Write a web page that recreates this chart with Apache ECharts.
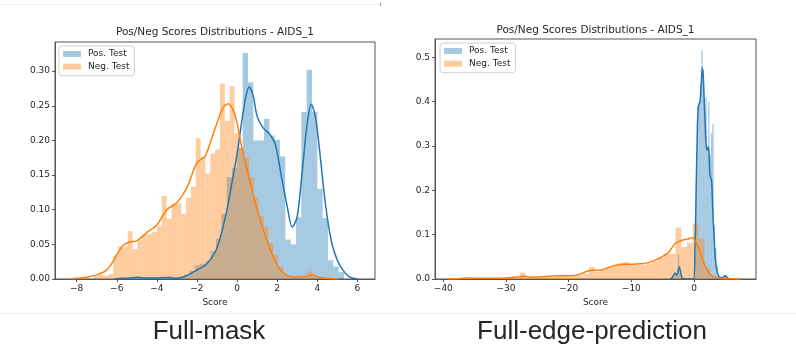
<!DOCTYPE html>
<html>
<head>
<meta charset="utf-8">
<script src="https://cdn.jsdelivr.net/npm/echarts@6/dist/echarts.min.js"></script>
<style>
  html, body { margin: 0; padding: 0; background: #fff; }
  #chart { width: 796px; height: 347px; }
</style>
</head>
<body>
<div id="chart"></div>
<script>
// ---- Full-mask (left) ----
// histogram bins: first left edge, bin width, heights (density)
var maskPosStart = -6.105, maskPosWidth = 0.266;
var maskPosHist = [0.002, 0.003, 0.002, 0.003, 0.004, 0.003, 0.002, 0.002, 0.003, 0.002,
  0.004, 0.002, 0.003, 0.006, 0.012, 0.02, 0.022, 0.026, 0.04, 0.058,
  0.094, 0.147, 0.16, 0.19, 0.326, 0.284, 0.2, 0.2, 0.231, 0.207,
  0.201, 0.177, 0.057, 0.05, 0.089, 0.241, 0.302, 0.241, 0.13, 0.088,
  0.027, 0.018, 0.01];
var maskNegStart = -7.143, maskNegWidth = 0.242;
var maskNegHist = [0.004, 0.006, 0.005, 0.007, 0.034, 0.047, 0.047, 0.069, 0.043, 0.056,
  0.064, 0.065, 0.068, 0.076, 0.12, 0.087, 0.109, 0.109, 0.094, 0.117,
  0.133, 0.203, 0.176, 0.152, 0.181, 0.187, 0.282, 0.228, 0.278, 0.21,
  0.188, 0.175, 0.147, 0.118, 0.09, 0.075, 0.052, 0.035, 0.018, 0.006,
  0.003, 0.002, 0.003, 0.004, 0.011, 0.003];
// kde curves
var maskPosKdeX = [-6.1, -5.5, -5, -4.5, -4, -3.5, -3, -2.5, -2, -1.5, -1, -0.5, -0.25, 0, 0.1, 0.3, 0.45, 0.6, 0.8, 1.0,
  1.3, 1.6, 1.9, 2.2, 2.5, 2.75, 3.0, 3.3, 3.5, 3.7, 3.9, 4.1, 4.4, 4.7, 5.0, 5.3, 5.6, 6.0];
var maskPosKdeY = [0, 0.001, 0.002, 0.0015, 0.0015, 0.002, 0.001, 0.005, 0.013, 0.022, 0.045, 0.1, 0.14, 0.18, 0.2, 0.24, 0.265, 0.277, 0.265, 0.235,
  0.218, 0.21, 0.195, 0.15, 0.105, 0.075, 0.09, 0.17, 0.225, 0.252, 0.235, 0.19, 0.11, 0.055, 0.027, 0.012, 0.003, 0];
var maskNegKdeX = [-8.3, -8, -7.5, -7, -6.6, -6.3, -6, -5.7, -5.4, -5, -4.5, -4, -3.5, -3, -2.5, -2, -1.6, -1.3, -1, -0.7,
  -0.45, -0.2, 0, 0.2, 0.5, 1, 1.5, 2, 2.5, 3, 3.5, 3.75, 4, 4.5, 5];
var maskNegKdeY = [0, 0.001, 0.0025, 0.006, 0.011, 0.02, 0.035, 0.048, 0.053, 0.055, 0.067, 0.078, 0.1, 0.11, 0.132, 0.168, 0.177, 0.2, 0.225, 0.247,
  0.253, 0.244, 0.225, 0.195, 0.158, 0.1, 0.055, 0.02, 0.005, 0.003, 0.004, 0.006, 0.003, 0.001, 0];
var maskXTicks = [-8, -6, -4, -2, 0, 2, 4, 6];
var maskYTicks = [0, 0.05, 0.1, 0.15, 0.2, 0.25, 0.3];

// ---- Full-edge-prediction (right) ----
var edgePosStart = -3.46, edgePosWidth = 0.22;
var edgePosHist = [0.006, 0.012, 0.008, 0.012, 0.055, 0.03, 0.01, 0.002, 0, 0,
  0, 0, 0, 0, 0, 0.004, 0.05, 0.22, 0.39, 0.4,
  0.44, 0.516, 0.47, 0.37, 0.41, 0.3, 0.4, 0.28, 0.33, 0.35,
  0.12, 0.07, 0.03, 0.012, 0.005, 0.003, 0.002, 0.006, 0.01, 0.004];
var edgeNegStart = -37.0, edgeNegWidth = 0.92;
var edgeNegHist = [0.002, 0.002, 0.002, 0.001, 0.001, 0.001, 0.001, 0.001, 0.002, 0.002,
  0.014, 0.004, 0.004, 0.004, 0.005, 0.005, 0.009, 0.007, 0.006, 0.006,
  0.008, 0.012, 0.027, 0.016, 0.02, 0.027, 0.031, 0.036, 0.038, 0.031,
  0.032, 0.031, 0.035, 0.04, 0.048, 0.057, 0.057, 0.116, 0.072, 0.082,
  0.125, 0.09, 0.025, 0.006];
var edgePosKdeX = [-3.8, -3.5, -3.3, -3.0, -2.8, -2.6, -2.4, -2.2, -2.0, -1.8, -1.0, -0.1, 0.16, 0.32, 0.53, 0.69, 0.96, 1.15, 1.33, 1.5,
  1.8, 2.05, 2.3, 2.55, 2.82, 3.0, 3.2, 3.4, 3.7, 4.0, 4.5, 5.0, 5.3, 5.6];
var edgePosKdeY = [0, 0.003, 0.008, 0.0135, 0.008, 0.014, 0.027, 0.02, 0.006, 0.001, 0, 0, 0.072, 0.185, 0.336, 0.389, 0.4, 0.44, 0.477, 0.45,
  0.34, 0.29, 0.298, 0.235, 0.22, 0.15, 0.095, 0.045, 0.016, 0.005, 0.003, 0.0075, 0.003, 0];
var edgeNegKdeX = [-39.2, -38, -36, -34, -32, -30, -28, -27, -26, -24, -22, -20, -19, -18, -17, -16, -15, -14, -13, -12,
  -11, -10, -9, -8, -7, -6, -5, -4, -3, -2, -1, -0.3, 0, 0.5, 1, 1.5, 2, 2.5, 3, 4, 5, 7.5];
var edgeNegKdeY = [0, 0.0008, 0.0023, 0.0015, 0.0015, 0.002, 0.005, 0.006, 0.0045, 0.005, 0.0075, 0.0075, 0.008, 0.012, 0.018, 0.0196, 0.0196, 0.024, 0.029, 0.032,
  0.033, 0.033, 0.034, 0.035, 0.038, 0.044, 0.051, 0.061, 0.08, 0.087, 0.09, 0.093, 0.091, 0.076, 0.058, 0.038, 0.023, 0.012, 0.006, 0.0015, 0.0008, 0];
var edgeXTicks = [-40, -30, -20, -10, 0];
var edgeYTicks = [0, 0.1, 0.2, 0.3, 0.4, 0.5];

var titleText = 'Pos/Neg Scores Distributions - AIDS_1';
var captions = ['Full-mask', 'Full-edge-prediction'];

var BLUE = '#1f77b4', ORANGE = '#ff7f0e';
var BLUE_FILL = 'rgba(31,119,180,0.4)', ORANGE_FILL = 'rgba(255,127,14,0.4)';
var FONT = 'DejaVu Sans';
var TXT = '#262626';

function minus(v) {
    return String(v).replace('-', '\u2212');
}

function histSeries(name, start, width, heights, fill, idx, z) {
    var data = heights.map(function (h, i) {
        return [start + i * width, start + (i + 1) * width, h];
    });
    return {
        name: name,
        type: 'custom',
        xAxisIndex: idx,
        yAxisIndex: idx,
        z: z,
        clip: true,
        itemStyle: {color: fill},
        encode: {x: [0, 1], y: 2},
        data: data,
        renderItem: function (params, api) {
            var a = api.coord([api.value(0), api.value(2)]);
            var b = api.coord([api.value(1), 0]);
            return {
                type: 'rect',
                shape: {x: a[0], y: a[1], width: b[0] - a[0], height: b[1] - a[1]},
                style: {fill: fill}
            };
        }
    };
}

// kde lines sit above every bar, like matplotlib's zorder
function kdeSeries(name, xs, ys, color, idx, z) {
    return {
        name: name,
        type: 'line',
        xAxisIndex: idx,
        yAxisIndex: idx,
        z: z,
        symbol: 'none',
        smooth: 0.3,
        lineStyle: {color: color, width: 1.5},
        data: xs.map(function (x, i) { return [x, ys[i]]; })
    };
}

function xAxis(idx, min, max, ticks) {
    return {
        type: 'value', gridIndex: idx, min: min, max: max,
        name: 'Score', nameLocation: 'middle', nameGap: 18,
        nameTextStyle: {color: TXT, fontSize: 9, fontFamily: FONT},
        axisLine: {show: true, onZero: false, lineStyle: {color: '#555', width: 1}},
        axisTick: {show: true, length: 3, customValues: ticks, lineStyle: {color: '#555'}},
        axisLabel: {customValues: ticks, margin: 5, color: TXT, fontSize: 9, fontFamily: FONT, formatter: minus},
        splitLine: {show: false}
    };
}

function yAxis(idx, max, ticks, digits) {
    return {
        type: 'value', gridIndex: idx, min: 0, max: max,
        axisLine: {show: true, onZero: false, lineStyle: {color: '#555', width: 1}},
        axisTick: {show: true, length: 3, customValues: ticks, lineStyle: {color: '#555'}},
        axisLabel: {customValues: ticks, margin: 5, color: TXT, fontSize: 9, fontFamily: FONT,
            formatter: function (v) { return v.toFixed(digits); }},
        splitLine: {show: false}
    };
}

function legend(left, top) {
    return {
        left: left, top: top, orient: 'vertical',
        padding: [2, 5, 3, 4],
        itemWidth: 18, itemHeight: 6, itemGap: 0.7,
        backgroundColor: 'rgba(255,255,255,0.8)',
        borderColor: '#d0d0d0', borderWidth: 1, borderRadius: 3,
        textStyle: {color: TXT, fontSize: 9, fontFamily: FONT, lineHeight: 12, padding: [0, 0, 0, 2]},
        selectedMode: false,
        data: [
            {name: 'Pos. Test', icon: 'rect', itemStyle: {color: BLUE_FILL}},
            {name: 'Neg. Test', icon: 'rect', itemStyle: {color: ORANGE_FILL}}
        ]
    };
}

function text(x, y, str, size, family) {
    return {
        type: 'text', x: x, y: y, silent: true,
        style: {text: str, fill: TXT, fontSize: size, fontFamily: family, align: 'center', verticalAlign: 'middle'}
    };
}

var chart = echarts.init(document.getElementById('chart'), null, {renderer: 'canvas'});
chart.setOption({
    animation: false,
    backgroundColor: '#fff',
    grid: [
        {left: 55, top: 42, width: 320, height: 237, show: true, borderColor: '#555', borderWidth: 1, backgroundColor: 'transparent'},
        {left: 435, top: 39, width: 321, height: 240, show: true, borderColor: '#555', borderWidth: 1, backgroundColor: 'transparent'}
    ],
    xAxis: [
        xAxis(0, -9.08, 6.88, maskXTicks),
        xAxis(1, -41.33, 9.89, edgeXTicks)
    ],
    yAxis: [
        yAxis(0, 0.342, maskYTicks, 2),
        yAxis(1, 0.5414, edgeYTicks, 1)
    ],
    legend: [legend(59, 46), legend(440, 43)],
    series: [
        histSeries('Pos. Test', maskPosStart, maskPosWidth, maskPosHist, BLUE_FILL, 0, 2),
        histSeries('Neg. Test', maskNegStart, maskNegWidth, maskNegHist, ORANGE_FILL, 0, 3),
        kdeSeries('Pos. Test kde', maskPosKdeX, maskPosKdeY, BLUE, 0, 4),
        kdeSeries('Neg. Test kde', maskNegKdeX, maskNegKdeY, ORANGE, 0, 5),

        histSeries('Pos. Test', edgePosStart, edgePosWidth, edgePosHist, BLUE_FILL, 1, 2),
        histSeries('Neg. Test', edgeNegStart, edgeNegWidth, edgeNegHist, ORANGE_FILL, 1, 3),
        kdeSeries('Pos. Test kde', edgePosKdeX, edgePosKdeY, BLUE, 1, 4),
        kdeSeries('Neg. Test kde', edgeNegKdeX, edgeNegKdeY, ORANGE, 1, 5)
    ],
    graphic: [
        {type: 'line', silent: true, shape: {x1: 0, y1: 4.5, x2: 377, y2: 4.5}, style: {stroke: '#ececec', lineWidth: 1}},
        {type: 'rect', silent: true, shape: {x: 380, y: 3, width: 1, height: 3}, style: {fill: '#999'}},
        {type: 'line', silent: true, shape: {x1: 0, y1: 313.5, x2: 796, y2: 313.5}, style: {stroke: '#ececec', lineWidth: 1}},
        text(215, 32, titleText, 10.5, FONT),
        text(595.5, 30, titleText, 10.5, FONT),
        text(209, 332, captions[0], 26, 'Liberation Sans'),
        text(592, 332, captions[1], 26, 'Liberation Sans')
    ]
});
</script>
</body>
</html>
